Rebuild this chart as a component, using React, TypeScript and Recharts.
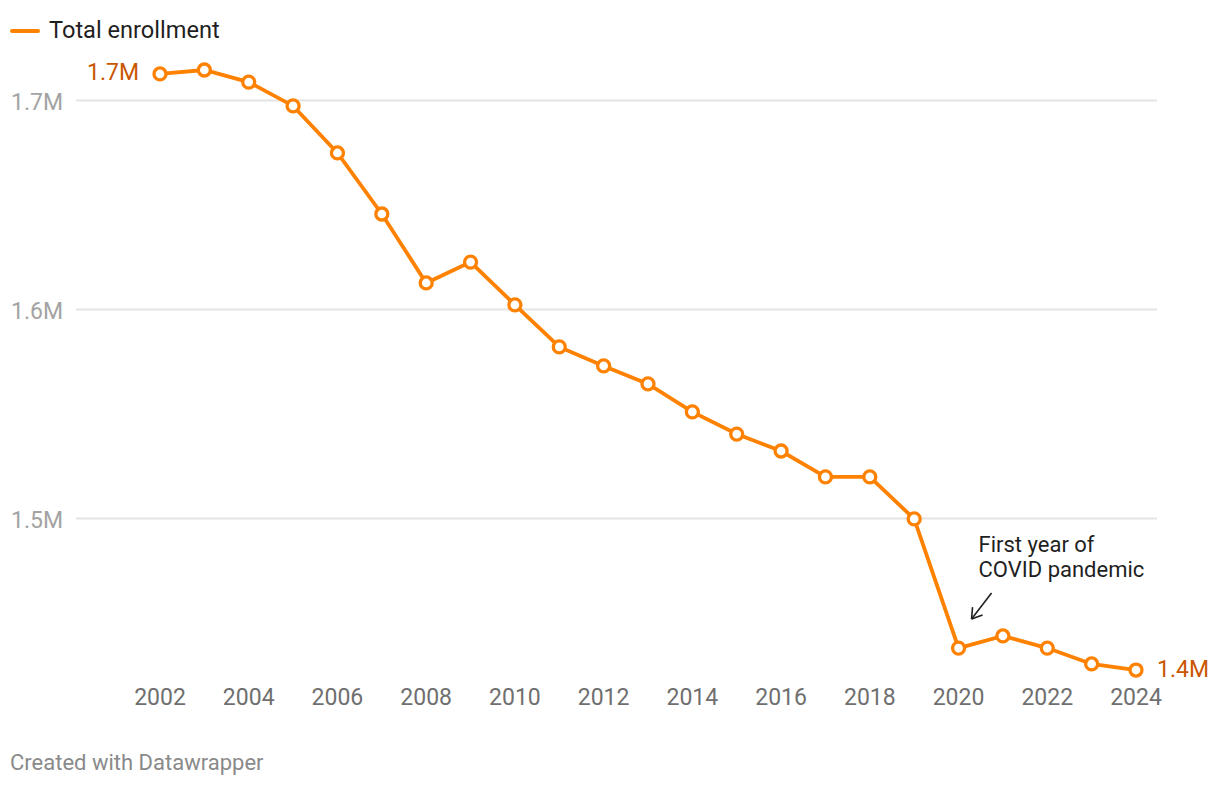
import React from "react";
import {
  LineChart,
  Line,
  XAxis,
  YAxis,
  ReferenceLine,
  ReferenceDot,
} from "recharts";

const years = [
  2002, 2003, 2004, 2005, 2006, 2007, 2008, 2009, 2010, 2011, 2012, 2013,
  2014, 2015, 2016, 2017, 2018, 2019, 2020, 2021, 2022, 2023, 2024,
];
const enrollment = [
  1.7127, 1.7146, 1.7088, 1.6974, 1.6749, 1.6457, 1.6127, 1.6227, 1.6022,
  1.5821, 1.573, 1.5644, 1.551, 1.5404, 1.5323, 1.5199, 1.5199, 1.4998,
  1.438, 1.4438, 1.438, 1.4304, 1.4275,
];
const xTicks = [2002, 2004, 2006, 2008, 2010, 2012, 2014, 2016, 2018, 2020, 2022, 2024];
const yTicks = [1.5, 1.6, 1.7];
const seriesName = "Total enrollment";
const annotationYear = 2020;
const annotationLines = ["First year of", "COVID pandemic"];
const footerText = "Created with Datawrapper";

const data = years.map((y, i) => ({ year: y, value: enrollment[i] }));

const ORANGE = "#ff8100";
const LABEL_ORANGE = "#c95600";
const FONT = "Roboto, 'Noto Sans', sans-serif";

const fmt = (v: number) => `${v.toFixed(1)}M`;

const XTick = (props: any) => {
  const { x, y, payload } = props;
  return (
    <text x={x} y={y + 19.5} textAnchor="middle" fill="#6f6f6f" fontSize={23} fontFamily={FONT}>
      {payload.value}
    </text>
  );
};

const YTick = (props: any) => {
  const { x, y, payload } = props;
  return (
    <text x={x - 13} y={y + 9} textAnchor="end" fill="#a3a3a3" fontSize={23} fontFamily={FONT}>
      {fmt(payload.value)}
    </text>
  );
};

const StartLabel = (props: any) => {
  const { cx, cy } = props;
  return (
    <text x={cx - 21} y={cy + 6.5} textAnchor="end" fill={LABEL_ORANGE} fontSize={23} fontFamily={FONT}>
      {fmt(enrollment[0])}
    </text>
  );
};

const EndLabel = (props: any) => {
  const { cx, cy } = props;
  return (
    <text x={cx + 21} y={cy + 6.5} textAnchor="start" fill={LABEL_ORANGE} fontSize={23} fontFamily={FONT}>
      {fmt(enrollment[enrollment.length - 1])}
    </text>
  );
};

const Annotation = (props: any) => {
  const { cx, cy } = props;
  const tipX = cx + 13;
  const tipY = cy - 29;
  return (
    <g>
      <text x={cx + 20} y={cy - 96} fill="#1f1f1f" fontSize={22} fontFamily={FONT}>
        {annotationLines[0]}
      </text>
      <text x={cx + 20} y={cy - 71} fill="#1f1f1f" fontSize={22} fontFamily={FONT}>
        {annotationLines[1]}
      </text>
      <line x1={cx + 33} y1={cy - 55} x2={tipX} y2={tipY} stroke="#1f1f1f" strokeWidth={1.6} />
      <line x1={tipX} y1={tipY} x2={tipX + 1} y2={tipY - 12} stroke="#1f1f1f" strokeWidth={1.6} />
      <line x1={tipX} y1={tipY} x2={tipX + 11} y2={tipY - 4} stroke="#1f1f1f" strokeWidth={1.6} />
    </g>
  );
};

export default function App() {
  const annIdx = years.indexOf(annotationYear);
  return (
    <div style={{ position: "relative", width: 1204, height: 770, fontFamily: FONT }}>
      <div
        style={{
          position: "absolute",
          left: 2,
          top: 9,
          display: "flex",
          alignItems: "center",
          fontSize: 23.6,
          lineHeight: "27px",
          color: "#1f1f1f",
          height: 27,
        }}
      >
        <span
          style={{
            display: "inline-block",
            width: 30,
            height: 4,
            background: ORANGE,
            borderRadius: 2,
            marginRight: 9,
          }}
        />
        <span>{seriesName}</span>
      </div>
      <div style={{ position: "absolute", left: 0, top: 0 }}>
        <LineChart
          width={1204}
          height={720}
          data={data}
          margin={{ top: 50.7, right: 55, left: 0, bottom: 12.3 }}
        >
          <XAxis
            dataKey="year"
            type="number"
            domain={[2002, 2024]}
            ticks={xTicks}
            padding={{ left: 84, right: 21 }}
            axisLine={false}
            tickLine={false}
            tickSize={0}
            tickMargin={0}
            height={30}
            tick={<XTick />}
            interval={0}
          />
          <YAxis
            type="number"
            domain={[1.42, 1.72]}
            ticks={yTicks}
            allowDataOverflow
            axisLine={false}
            tickLine={false}
            tickSize={0}
            tickMargin={0}
            width={68}
            tick={<YTick />}
            interval={0}
          />
          {yTicks.map((t) => (
            <ReferenceLine key={t} y={t} stroke="#e4e4e4" strokeWidth={2} />
          ))}
          <Line
            type="linear"
            dataKey="value"
            stroke={ORANGE}
            strokeWidth={3.8}
            dot={{ r: 6, fill: "#fff", stroke: ORANGE, strokeWidth: 3.3 }}
            activeDot={false}
            isAnimationActive={false}
          />
          <ReferenceDot
            x={years[0]}
            y={enrollment[0]}
            r={0}
            ifOverflow="visible"
            shape={<StartLabel />}
          />
          <ReferenceDot
            x={years[years.length - 1]}
            y={enrollment[enrollment.length - 1]}
            r={0}
            ifOverflow="visible"
            shape={<EndLabel />}
          />
          <ReferenceDot
            x={years[annIdx]}
            y={enrollment[annIdx]}
            r={0}
            ifOverflow="visible"
            shape={<Annotation />}
          />
        </LineChart>
      </div>
      <div
        style={{
          position: "absolute",
          left: 2,
          top: 742,
          fontSize: 22,
          lineHeight: "25px",
          color: "#8a8a8a",
        }}
      >
        {footerText}
      </div>
    </div>
  );
}
